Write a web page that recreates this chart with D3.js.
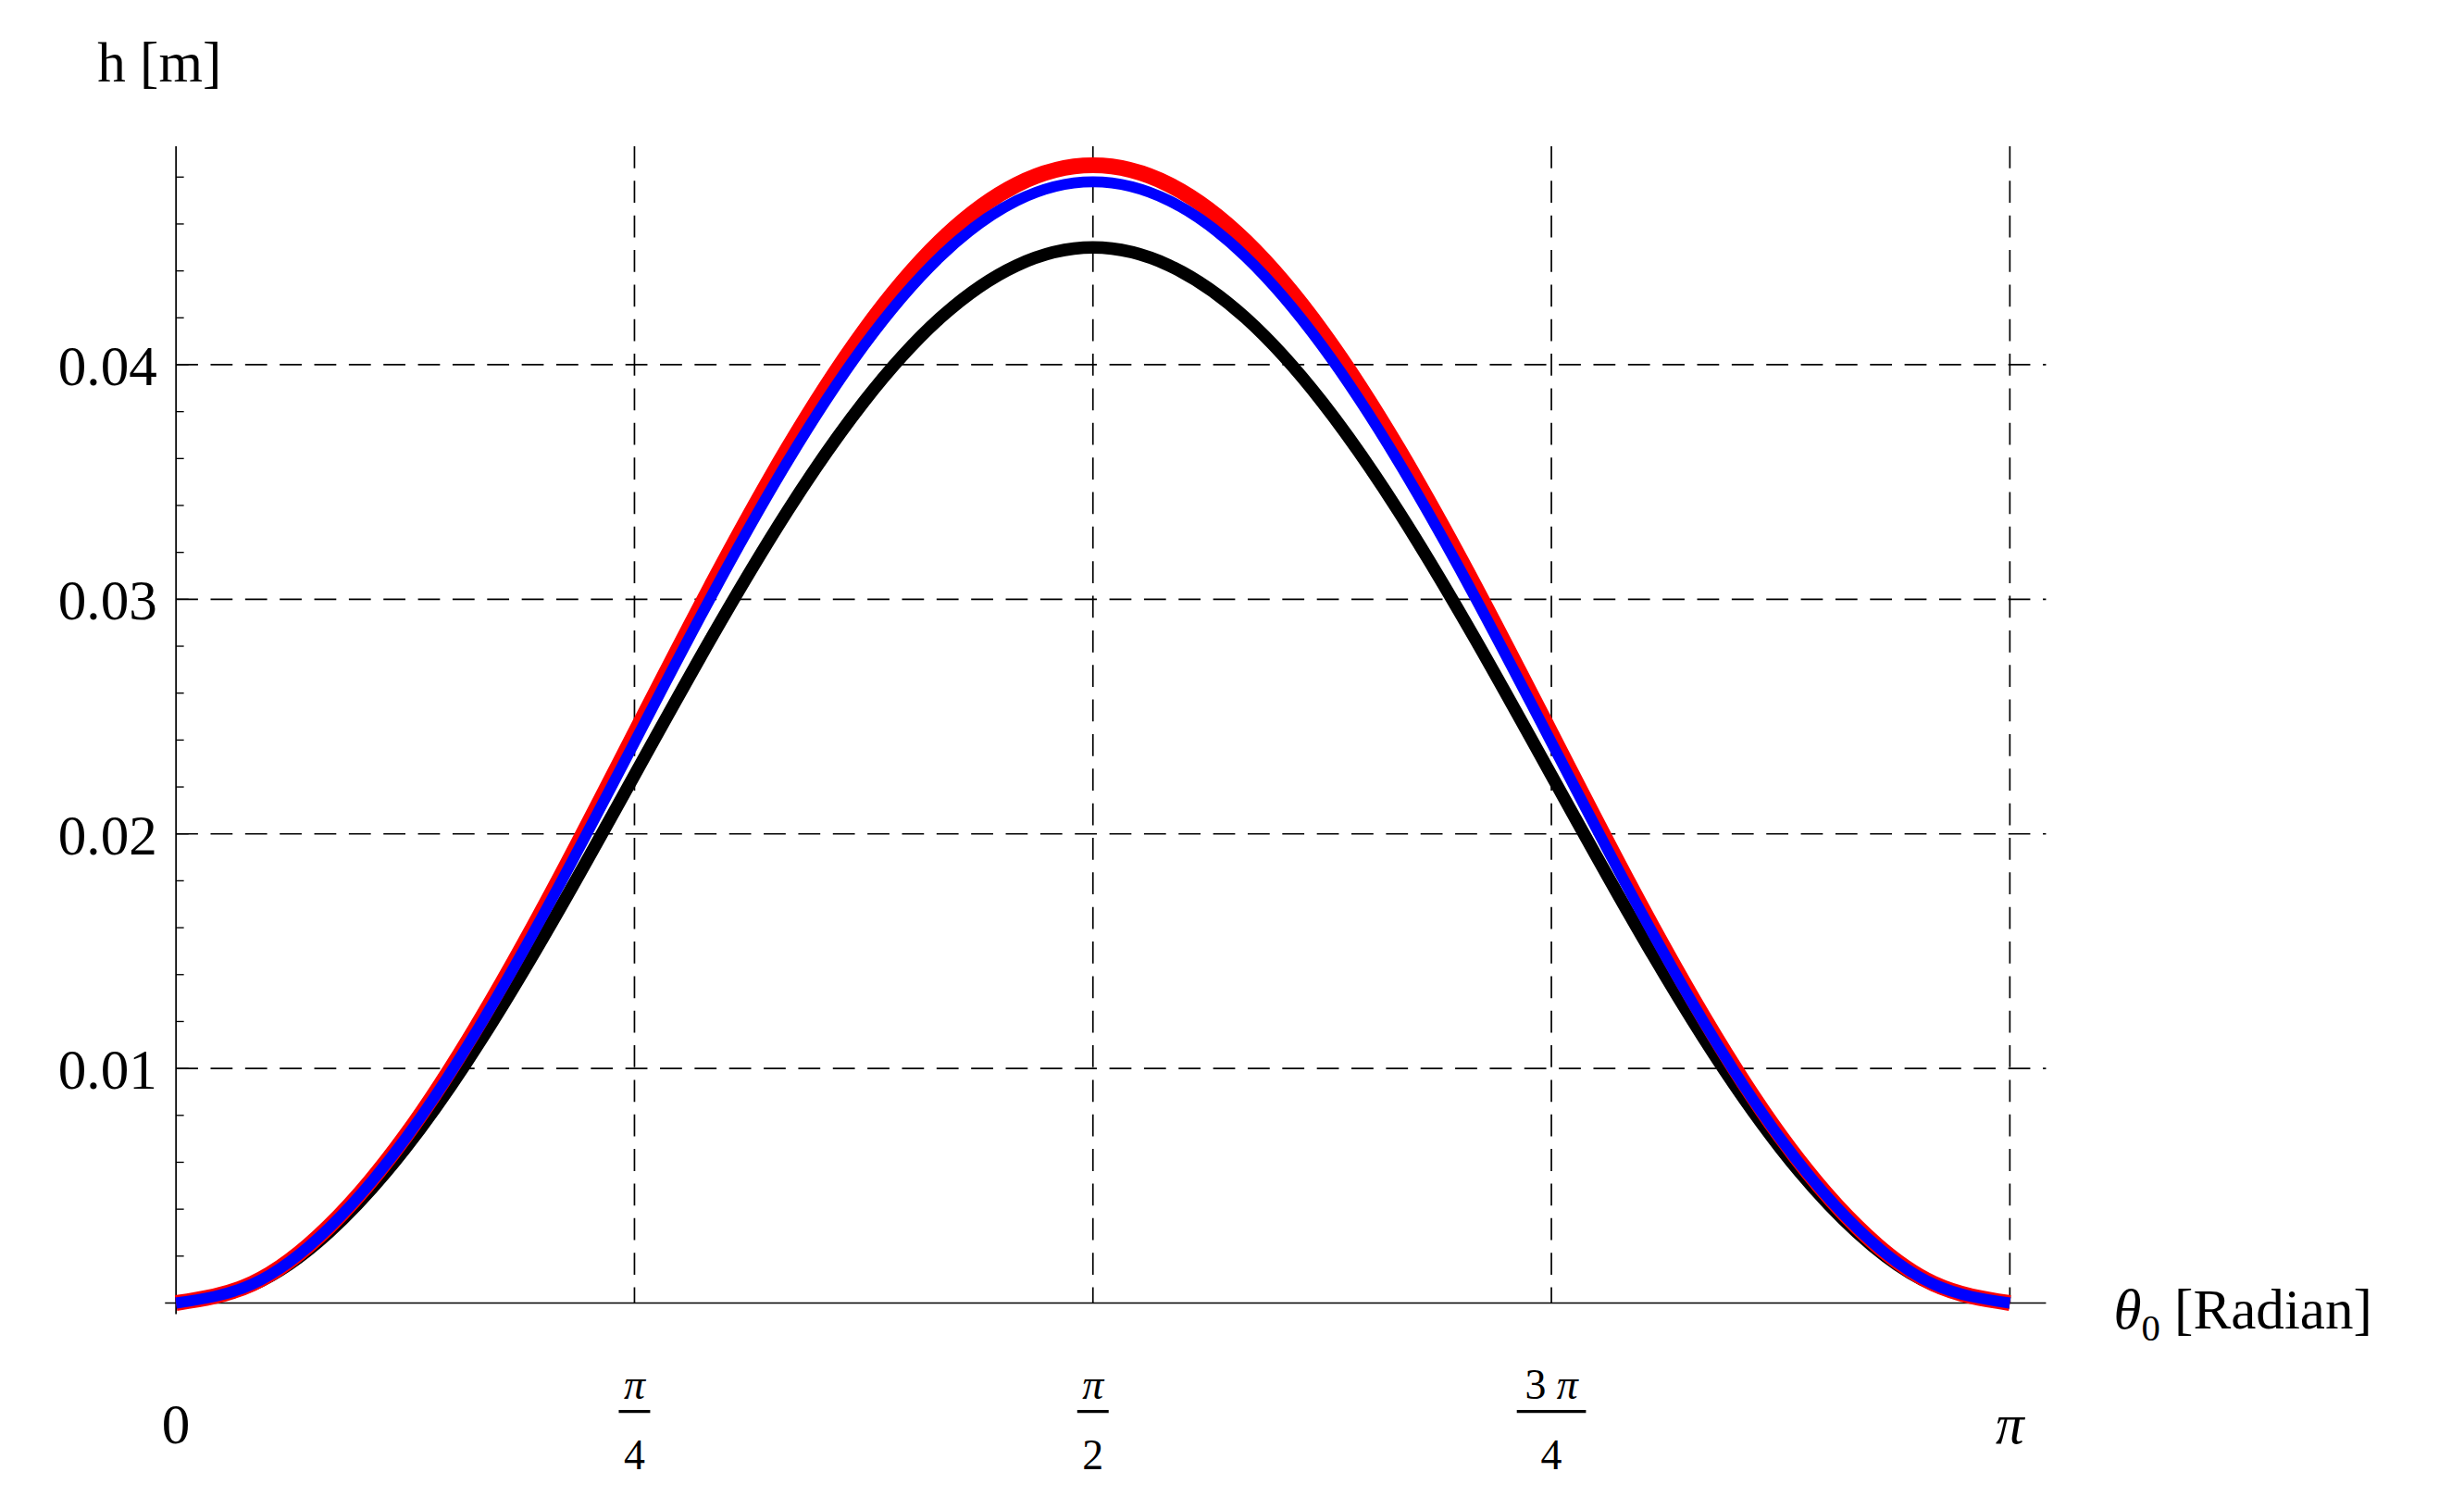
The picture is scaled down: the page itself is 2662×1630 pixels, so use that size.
<!DOCTYPE html>
<html><head><meta charset="utf-8">
<script src="https://cdn.jsdelivr.net/npm/d3@7"></script>
<style>body{margin:0;background:#fff}text{font-family:"Liberation Serif","DejaVu Serif",serif;fill:#000}</style>
</head><body>
<svg id="c" width="2662" height="1630" viewBox="0 0 1568 960"></svg>
<script>
// theta in units of pi/24, 0..24
const thetaSteps = [0,1,2,3,4,5,6,7,8,9,10,11,12,13,14,15,16,17,18,19,20,21,22,23,24];
const redH   = [0,.00083,.00325,.00710,.01213,.01797,.02425,.03053,.03638,.04140,.04525,.04767,.0485,.04767,.04525,.04140,.03638,.03053,.02425,.01797,.01213,.00710,.00325,.00083,0];
const blueH  = [0,.00081,.00320,.00700,.01195,.01771,.0239,.03009,.03585,.04080,.04460,.04699,.0478,.04699,.04460,.04080,.03585,.03009,.0239,.01771,.01195,.00700,.00320,.00081,0];
const blackH = [0,.00077,.00301,.00659,.01125,.01668,.0225,.02832,.03375,.03841,.04199,.04423,.045,.04423,.04199,.03841,.03375,.02832,.0225,.01668,.01125,.00659,.00301,.00077,0];
const yTicks = [0.01,0.02,0.03,0.04];
const xTickLabels = [["0",null],["π","4"],["π","2"],["3 π","4"],["π",null]];

const svg = d3.select("#c");
const x = d3.scaleLinear().domain([0,Math.PI]).range([112,1279]);
const y = d3.scaleLinear().domain([0,0.04]).range([829,232]);
const yTop = 93, xRight = 1302;

// grid
const g = svg.append("g").attr("stroke","#000").attr("stroke-width",1).attr("stroke-dasharray","14,8");
yTicks.forEach(v=>g.append("line").attr("x1",112).attr("x2",xRight).attr("y1",y(v)).attr("y2",y(v)));
[1,2,3,4].forEach(i=>g.append("line").attr("x1",x(i*Math.PI/4)).attr("x2",x(i*Math.PI/4)).attr("y1",yTop).attr("y2",829));

// axes
svg.append("line").attr("x1",105).attr("x2",xRight).attr("y1",829).attr("y2",829).attr("stroke","#000");
svg.append("line").attr("x1",112).attr("x2",112).attr("y1",yTop).attr("y2",836).attr("stroke","#000");
d3.range(0,0.0495,0.002).forEach((v,i)=>{
  const major = Math.abs(v*100-Math.round(v*100))<1e-6;
  svg.append("line").attr("x1",112).attr("x2",112+(major?8:5)).attr("y1",y(v)).attr("y2",y(v)).attr("stroke","#000").attr("stroke-width",0.8);
});
yTicks.forEach(v=>svg.append("text").attr("x",100).attr("y",y(v)+13).attr("text-anchor","end").attr("font-size",36).text(v.toFixed(2)));
xTickLabels.forEach((l,i)=>{
  const cx = x(i*Math.PI/4);
  if(!l[1]){
    svg.append("text").attr("x",cx).attr("y",918).attr("text-anchor","middle").attr("font-size",36).attr("font-style",i===4?"italic":null).text(l[0]);
  } else {
    const t = svg.append("text").attr("x",cx).attr("y",890).attr("text-anchor","middle").attr("font-size",27);
    if(l[0]==="3 π"){t.append("tspan").text("3 ");t.append("tspan").attr("font-style","italic").text("π");}
    else t.attr("font-style","italic").text(l[0]);
    const w = l[0]==="3 π"?22:10;
    svg.append("line").attr("x1",cx-w).attr("x2",cx+w).attr("y1",898).attr("y2",898).attr("stroke","#000").attr("stroke-width",2);
    svg.append("text").attr("x",cx).attr("y",935).attr("text-anchor","middle").attr("font-size",27).text(l[1]);
  }
});
svg.append("text").attr("x",62).attr("y",52).attr("font-size",36).text("h [m]");
const xl = svg.append("text").attr("x",1345).attr("y",845).attr("font-size",36);
xl.append("tspan").attr("font-style","italic").text("θ");
xl.append("tspan").attr("font-size",24).attr("dy",8).text("0");
xl.append("tspan").attr("dy",-8).text(" [Radian]");

const line = d3.line().x((d,i)=>x(thetaSteps[i]*Math.PI/24)).y(d=>y(d)).curve(d3.curveNatural);
[[blackH,"#000",8],[redH,"#ff0000",10],[blueH,"#0000ff",7]].forEach(([d,c,w])=>
  svg.append("path").attr("d",line(d)).attr("fill","none").attr("stroke",c).attr("stroke-width",w));
</script>
</body></html>
